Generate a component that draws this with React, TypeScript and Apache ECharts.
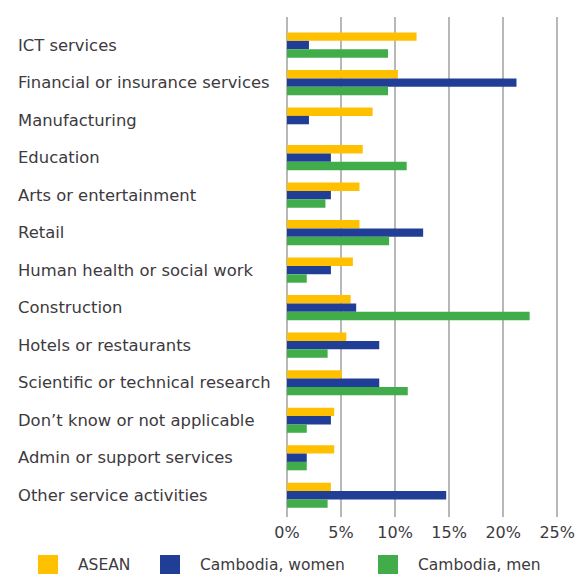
import React, { useEffect, useRef } from "react";
import * as echarts from "echarts";

const categories = [
  "ICT services",
  "Financial or insurance services",
  "Manufacturing",
  "Education",
  "Arts or entertainment",
  "Retail",
  "Human health or social work",
  "Construction",
  "Hotels or restaurants",
  "Scientific or technical research",
  "Don\u2019t know or not applicable",
  "Admin or support services",
  "Other service activities",
];

const aseanValues = [11.8, 10.1, 7.8, 6.9, 6.6, 6.6, 6.0, 5.8, 5.4, 5.0, 4.3, 4.3, 4.0];
const womenValues = [2.0, 20.9, 2.0, 4.0, 4.0, 12.4, 4.0, 6.3, 8.4, 8.4, 4.0, 1.8, 14.5];
const menValues = [9.2, 9.2, 0, 10.9, 3.5, 9.3, 1.8, 22.1, 3.7, 11.0, 1.8, 1.8, 3.7];

const seriesNames = ["ASEAN", "Cambodia, women", "Cambodia, men"];
const seriesColors = ["#FFC000", "#213E97", "#41AC4A"];

const FONT = "DejaVu Sans";
const TEXT_COLOR = "#3d3a40";

export default function App() {
  const ref = useRef<HTMLDivElement>(null);

  useEffect(() => {
    if (!ref.current) return;
    const chart = echarts.init(ref.current, undefined, { renderer: "svg" });
    const seriesData = [aseanValues, womenValues, menValues];

    const legendLefts = [38, 160, 378];

    chart.setOption({
      animation: false,
      backgroundColor: "#ffffff",
      textStyle: { fontFamily: FONT },
      grid: [
        { left: 287, right: 16.5, top: 17, height: 500 },
        { left: 287, right: 16.5, top: 26.3, height: 487.7 },
      ],
      legend: seriesNames.map((name, i) => ({
        data: [name],
        left: legendLefts[i],
        top: 555,
        padding: 0,
        itemWidth: 20,
        itemHeight: 20,
        icon: "rect",
        selectedMode: false,
        textStyle: {
          fontFamily: FONT,
          fontSize: 15.5,
          color: TEXT_COLOR,
          padding: [0, 0, 0, 15],
        },
      })),
      xAxis: [
        {
          type: "value",
          gridIndex: 0,
          min: 0,
          max: 25,
          interval: 5,
          axisLine: { show: false },
          axisTick: { show: false },
          splitLine: { show: true, lineStyle: { color: "#b0b0b0", width: 1.8 } },
          axisLabel: {
            formatter: "{value}%",
            fontFamily: FONT,
            fontSize: 16,
            color: TEXT_COLOR,
            margin: 7,
          },
        },
        {
          type: "value",
          gridIndex: 1,
          min: 0,
          max: 25,
          interval: 5,
          show: false,
          splitLine: { show: false },
        },
      ],
      yAxis: [
        {
          type: "category",
          gridIndex: 0,
          data: categories,
          show: false,
        },
        {
          type: "category",
          gridIndex: 1,
          data: categories,
          inverse: true,
          axisLine: { show: false },
          axisTick: { show: false },
          splitLine: { show: false },
          axisLabel: {
            align: "left",
            margin: 269,
            fontFamily: FONT,
            fontSize: 16.4,
            color: TEXT_COLOR,
            padding: [0, 0, 4, 0],
          },
        },
      ],
      series: seriesNames.map((name, i) => ({
        name,
        type: "bar",
        xAxisIndex: 1,
        yAxisIndex: 1,
        data: seriesData[i],
        barGap: "0%",
        barCategoryGap: "33%",
        itemStyle: { color: seriesColors[i] },
      })),
    });

    return () => chart.dispose();
  }, []);

  return (
    <div
      ref={ref}
      style={{ position: "fixed", left: 0, top: 0, width: 578, height: 574 }}
    />
  );
}
